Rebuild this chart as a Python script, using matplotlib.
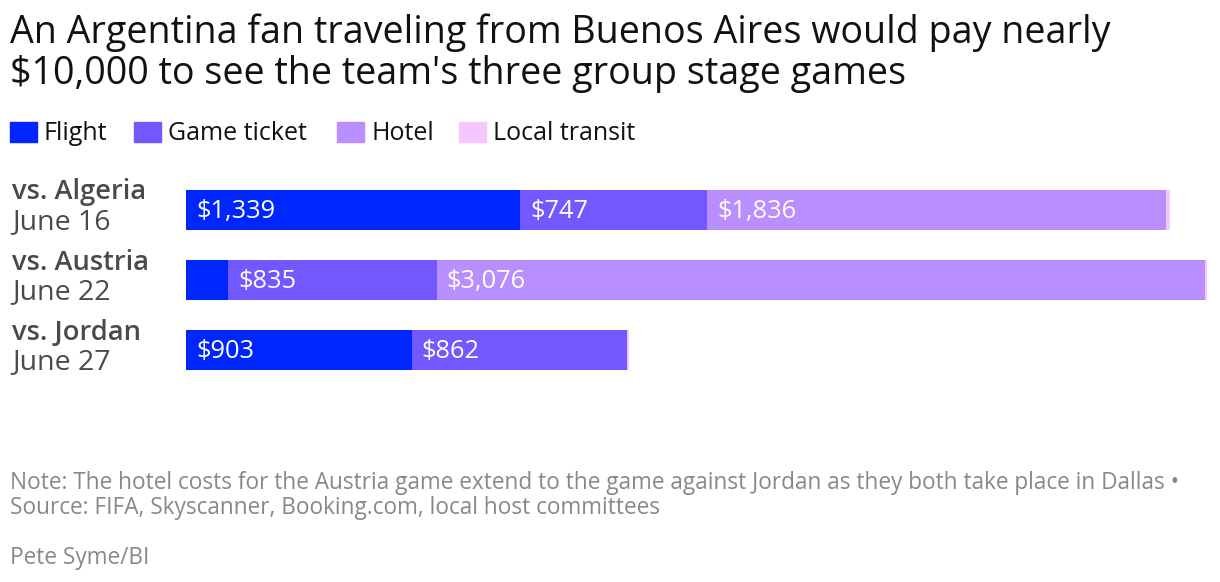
import matplotlib
matplotlib.use("Agg")
import matplotlib.pyplot as plt
from matplotlib.patches import Rectangle

# data
games = ["vs. Algeria", "vs. Austria", "vs. Jordan"]
dates = ["June 16", "June 22", "June 27"]
series = ["Flight", "Game ticket", "Hotel", "Local transit"]
flight = [1339, 168, 903]
ticket = [747, 835, 862]
hotel = [1836, 3076, 0]
transit = [16, 8, 8]

colors = ["#0026FF", "#7357FF", "#B98EFF", "#F5C6FF"]
plt.rcParams["font.family"] = ["Open Sans", "DejaVu Sans"]

W, H = 1220, 582
fig = plt.figure(figsize=(W / 100, H / 100), dpi=100)

def fx(px):
    return px / W

def fy(px):
    return 1 - px / H

# title
fig.text(fx(10), fy(43), "An Argentina fan traveling from Buenos Aires would pay nearly",
         fontsize=27.1, color="#111111", va="baseline")
fig.text(fx(10), fy(84), "$10,000 to see the team's three group stage games",
         fontsize=27.1, color="#111111", va="baseline")

# legend, drawn by hand
leg_x = [10, 134, 337, 459]
for x0, name, c in zip(leg_x, series, colors):
    fig.patches.append(Rectangle((fx(x0), fy(142)), fx(27), 20 / H, color=c,
                                 transform=fig.transFigure, figure=fig))
    fig.text(fx(x0 + 34), fy(140), name, fontsize=18, color="#111111", va="baseline")

# bars
ax = fig.add_axes([fx(186), (H - 384.5) / H, fx(1024), 210 / H])
ypos = list(range(len(games)))
stack = [flight, ticket, hotel, transit]
left = [0] * len(games)
for vals, c in zip(stack, colors):
    ax.barh(ypos, vals, left=left, height=40 / 70, color=c, linewidth=0)
    for i, v in enumerate(vals):
        if v > 500:
            ax.text(left[i] + 40, i + 0.03, f"${v:,}", color="white", fontsize=18.3,
                    va="center", ha="left")
    left = [l + v for l, v in zip(left, vals)]
ax.set_xlim(0, 4100)
ax.set_ylim(len(games) - 0.5, -0.5)
ax.axis("off")

# category labels
for i, (g, d) in enumerate(zip(games, dates)):
    yc = 209.5 + 70 * i
    fig.text(fx(12), fy(yc - 10), g, fontsize=19.6, fontweight="semibold", color="#4a4a4a",
             va="baseline")
    fig.text(fx(12), fy(yc + 20), d, fontsize=20.5, color="#4a4a4a", va="baseline")

# footer
foot = "#888888"
fig.text(fx(10), fy(489), "Note: The hotel costs for the Austria game extend to the game against Jordan as they both take place in Dallas \u2022",
         fontsize=16.3, color=foot, va="baseline")
fig.text(fx(10), fy(514), "Source: FIFA, Skyscanner, Booking.com, local host committees",
         fontsize=16.3, color=foot, va="baseline")
fig.text(fx(10), fy(564), "Pete Syme/BI", fontsize=16.3, color=foot, va="baseline")

fig.savefig("out.png", dpi=100)
